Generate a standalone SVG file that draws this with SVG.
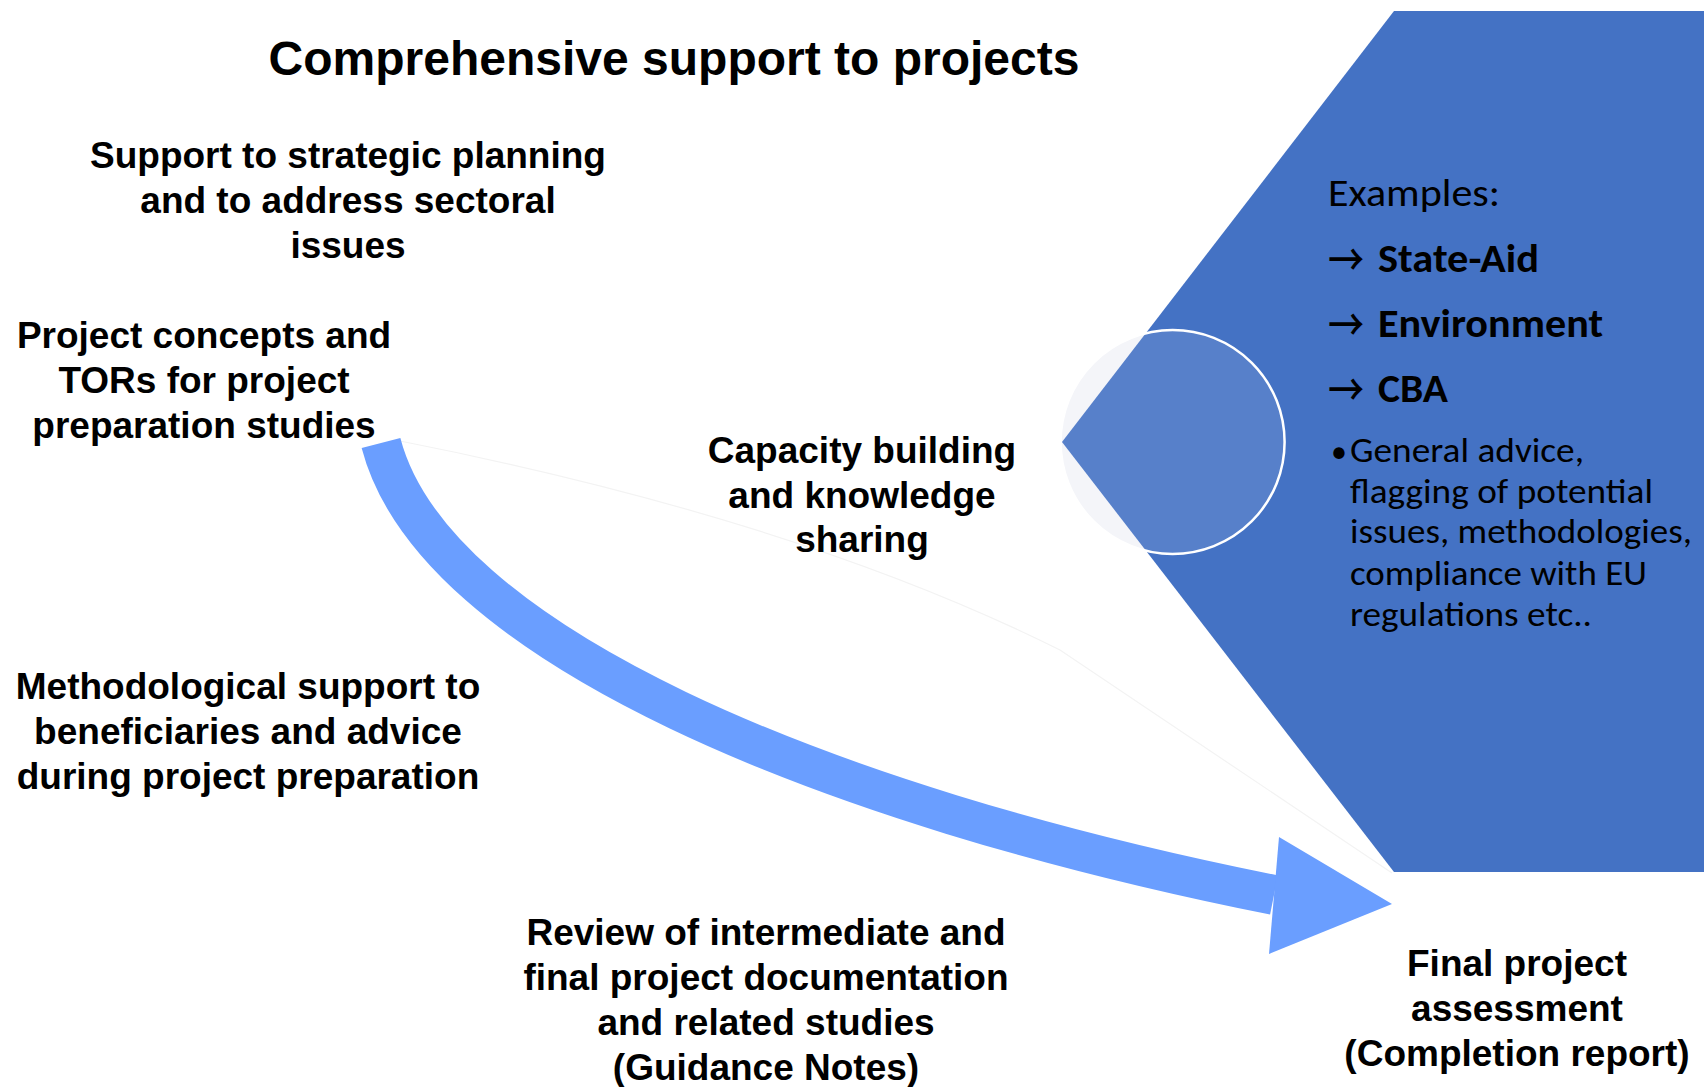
<svg xmlns="http://www.w3.org/2000/svg" width="1704" height="1087" viewBox="0 0 1704 1087">
<style>
.lbl{font-family:"Liberation Sans",Arial,sans-serif;font-weight:bold;font-size:37px;fill:#000;text-anchor:middle}
.title{font-family:"Liberation Sans",Arial,sans-serif;font-weight:bold;font-size:48px;fill:#000;text-anchor:middle}
.ex{font-family:Carlito,Lato,"Open Sans",sans-serif;fill:#000}
.arr{font-family:"Noto Sans CJK SC","DejaVu Sans",sans-serif;font-weight:500;font-size:44px}
</style>
<rect width="1704" height="1087" fill="#ffffff"/>
<g id="title"><text class="title" x="674" y="75">Comprehensive support to projects</text></g>
<g id="connectors">
<path d="M400,441 Q800,520 1060,650 L1392,873" fill="none" stroke="#F3F3F3" stroke-width="1.2"/>
<path d="M381,443 C433,643 823,805 1274,895" fill="none" stroke="#6A9EFF" stroke-width="40"/>
<polygon points="1279,837 1392,904 1269,954" fill="#6A9EFF"/>
</g>
<g id="examples-panel">
<circle cx="1172.6" cy="442" r="112" fill="#F3F4F9"/>
<polygon points="1394,11 1704,11 1704,872 1394,872 1062,442" fill="#4472C4"/>
<circle cx="1172.6" cy="442" r="112" fill="#FFFFFF" fill-opacity="0.1" stroke="#FFFFFF" stroke-width="2.5"/>
<text class="ex" x="1328" y="206" font-size="38" textLength="172" lengthAdjust="spacingAndGlyphs">Examples:</text>
<text class="ex arr" x="1328" y="276" textLength="36" lengthAdjust="spacingAndGlyphs">→</text>
<text class="ex" x="1378" y="272" font-size="40" font-weight="bold" textLength="161" lengthAdjust="spacingAndGlyphs">State-Aid</text>
<text class="ex arr" x="1328" y="341" textLength="36" lengthAdjust="spacingAndGlyphs">→</text>
<text class="ex" x="1378" y="337" font-size="40" font-weight="bold" textLength="225" lengthAdjust="spacingAndGlyphs">Environment</text>
<text class="ex arr" x="1328" y="406" textLength="36" lengthAdjust="spacingAndGlyphs">→</text>
<text class="ex" x="1378" y="402" font-size="40" font-weight="bold" textLength="70" lengthAdjust="spacingAndGlyphs">CBA</text>
<text class="ex" x="1331" y="462" font-size="32">•</text>
<text class="ex" font-size="34">
<tspan x="1350" y="462" textLength="234" lengthAdjust="spacingAndGlyphs">General advice,</tspan>
<tspan x="1350" y="503" textLength="303" lengthAdjust="spacingAndGlyphs">flagging of potential</tspan>
<tspan x="1350" y="543" textLength="342" lengthAdjust="spacingAndGlyphs">issues, methodologies,</tspan>
<tspan x="1350" y="585" textLength="297" lengthAdjust="spacingAndGlyphs">compliance with EU</tspan>
<tspan x="1350" y="626" textLength="242" lengthAdjust="spacingAndGlyphs">regulations etc..</tspan>
</text>
</g>
<g id="strategic-planning"><text class="lbl"><tspan x="348" y="168">Support to strategic planning</tspan><tspan x="348" y="213">and to address sectoral</tspan><tspan x="348" y="258">issues</tspan></text></g>
<g id="project-concepts"><text class="lbl"><tspan x="204" y="348">Project concepts and</tspan><tspan x="204" y="393">TORs for project</tspan><tspan x="204" y="438">preparation studies</tspan></text></g>
<g id="capacity-building"><text class="lbl"><tspan x="862" y="463">Capacity building</tspan><tspan x="862" y="508">and knowledge</tspan><tspan x="862" y="552">sharing</tspan></text></g>
<g id="methodological-support"><text class="lbl"><tspan x="248" y="699">Methodological support to</tspan><tspan x="248" y="744">beneficiaries and advice</tspan><tspan x="248" y="789">during project preparation</tspan></text></g>
<g id="review"><text class="lbl"><tspan x="766" y="945">Review of intermediate and</tspan><tspan x="766" y="990">final project documentation</tspan><tspan x="766" y="1035">and related studies</tspan><tspan x="766" y="1080">(Guidance Notes)</tspan></text></g>
<g id="final-assessment"><text class="lbl"><tspan x="1517" y="976">Final project</tspan><tspan x="1517" y="1021">assessment</tspan><tspan x="1517" y="1066">(Completion report)</tspan></text></g>
</svg>
